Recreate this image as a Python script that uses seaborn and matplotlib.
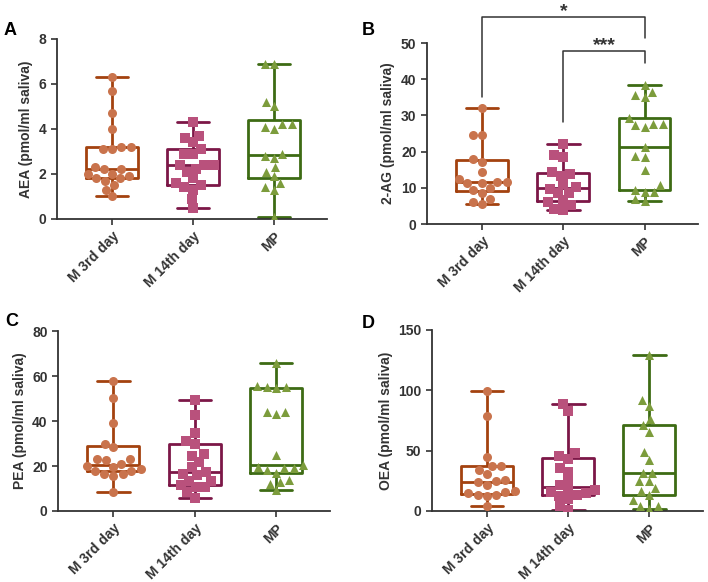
import numpy as np
import pandas as pd
import matplotlib
matplotlib.use("Agg")
import matplotlib.pyplot as plt
import matplotlib.cbook as cbook
import seaborn as sns

groups = ["M 3rd day", "M 14th day", "MP"]

# AEA (pmol/ml saliva)
aea_m3 = [6.3, 5.7, 4.7, 4.0, 3.2, 3.2, 3.1, 3.1, 2.3, 2.2, 2.2, 2.0, 2.0, 1.9, 1.8, 1.8, 1.7, 1.5, 1.3, 1.0]
aea_m14 = [4.3, 3.7, 3.6, 3.4, 3.1, 2.9, 2.9, 2.4, 2.4, 2.4, 2.2, 2.1, 1.8, 1.6, 1.5, 1.4, 1.3, 0.9, 0.5]
aea_mp = [6.9, 6.9, 5.2, 5.0, 4.2, 4.2, 4.1, 4.0, 2.9, 2.8, 2.7, 2.3, 2.1, 1.9, 1.6, 1.4, 1.3, 0.1]

# 2-AG (pmol/ml saliva)
ag_m3 = [32.2, 24.5, 24.5, 18.0, 17.2, 14.3, 12.5, 11.5, 11.5, 11.3, 11.3, 10.0, 9.5, 8.5, 7.0, 6.0, 5.5]
ag_m14 = [22.0, 19.0, 18.4, 14.3, 13.8, 13.4, 11.0, 10.2, 9.8, 8.7, 8.5, 6.6, 6.2, 5.3, 4.3, 4.0]
ag_mp = [38.5, 36.6, 35.7, 35.1, 29.2, 27.7, 27.7, 27.4, 26.9, 21.4, 18.8, 18.6, 14.9, 10.8, 9.4, 8.9, 8.9, 6.9, 6.4]

# PEA (pmol/ml saliva)
pea_m3 = [58.0, 50.3, 39.0, 30.0, 28.5, 23.0, 23.0, 22.5, 21.0, 20.0, 19.5, 18.5, 18.0, 18.0, 16.5, 16.5, 15.5, 8.5]
pea_m14 = [49.5, 42.5, 34.5, 31.0, 30.0, 25.5, 24.5, 22.0, 19.5, 17.5, 16.5, 16.0, 13.5, 13.5, 11.5, 10.5, 10.5, 8.5, 6.0]
pea_mp = [65.8, 55.5, 55.0, 55.0, 54.5, 44.2, 44.0, 43.0, 25.0, 20.5, 19.5, 19.3, 19.0, 18.2, 17.0, 13.6, 13.0, 12.2, 9.3]

# OEA (pmol/ml saliva)
oea_m3 = [99.5, 78.5, 45.0, 37.0, 37.0, 34.0, 30.5, 25.5, 24.5, 24.0, 21.5, 16.5, 16.0, 14.5, 13.5, 13.0, 12.5, 4.5]
oea_m14 = [89.0, 83.0, 48.0, 45.5, 43.0, 36.0, 32.5, 25.0, 21.5, 17.5, 17.5, 15.5, 14.5, 13.0, 12.5, 10.0, 4.5, 0.5]
oea_mp = [129.0, 92.0, 87.0, 76.0, 71.0, 65.5, 48.5, 42.5, 31.5, 31.5, 24.5, 24.5, 19.0, 16.5, 13.0, 9.0, 4.5, 4.0, 2.0]

line_colors = ["#A3420F", "#7C1747", "#3D6B14"]
point_colors = ["#C9734C", "#B9517C", "#7C9C3C"]
markers = ["o", "s", "^"]
dark = "#333333"

# quartiles the GraphPad way (n+1 method)
_orig_stats = cbook.boxplot_stats
def graphpad_stats(X, *args, **kwargs):
    stats = _orig_stats(X, *args, **kwargs)
    for st, x in zip(stats, X):
        st["q1"], st["med"], st["q3"] = np.percentile(x, [25, 50, 75], method="weibull")
    return stats
cbook.boxplot_stats = graphpad_stats

sns.set_style("ticks")
plt.rcParams["font.family"] = ["Liberation Sans", "DejaVu Sans"]
plt.rcParams["font.weight"] = "bold"


def panel(ax, values, ylabel, yticks):
    df = pd.DataFrame({"group": np.repeat(groups, [len(v) for v in values]),
                       "value": np.concatenate(values)})
    sns.boxplot(data=df, x="group", y="value", hue="group", order=groups, hue_order=groups,
                palette=line_colors, fill=False, whis=(0, 100), width=0.64, linewidth=2.0,
                capwidths=0.4, legend=False, ax=ax)
    for g, m, c in zip(groups, markers, point_colors):
        sns.swarmplot(data=df[df["group"] == g], x="group", y="value", order=groups,
                      color=c, marker=m, size=6.5, linewidth=0, zorder=3, ax=ax)
    sns.despine(ax=ax)
    ax.set_xlim(-0.68, 2.66)
    ax.set_ylim(yticks[0], yticks[-1])
    ax.set_yticks(yticks)
    ax.set_xticks([0, 1, 2])
    ax.set_xticklabels(groups, rotation=45, ha="right", rotation_mode="anchor")
    ax.set_xlabel("")
    ax.set_ylabel(ylabel, fontsize=10, fontweight="bold", color=dark)
    ax.tick_params(labelsize=10, width=1.2, length=4, color=dark, labelcolor=dark)
    for s in ["left", "bottom"]:
        ax.spines[s].set_color(dark)
        ax.spines[s].set_linewidth(1.3)
    return ax


fig = plt.figure(figsize=(7.08, 5.82), dpi=100)
axA = fig.add_axes([0.0805, 0.624, 0.382, 0.309])
axB = fig.add_axes([0.603, 0.615, 0.383, 0.311])
axC = fig.add_axes([0.082, 0.122, 0.384, 0.309])
axD = fig.add_axes([0.610, 0.122, 0.383, 0.311])

panel(axA, [aea_m3, aea_m14, aea_mp], "AEA (pmol/ml saliva)", [0, 2, 4, 6, 8])
panel(axB, [ag_m3, ag_m14, ag_mp], "2-AG (pmol/ml saliva)", [0, 10, 20, 30, 40, 50])
panel(axC, [pea_m3, pea_m14, pea_mp], "PEA (pmol/ml saliva)", [0, 20, 40, 60, 80])
panel(axD, [oea_m3, oea_m14, oea_mp], "OEA (pmol/ml saliva)", [0, 50, 100, 150])

# significance brackets on 2-AG
axB.plot([0, 0, 2, 2], [35, 57.3, 57.3, 51.5], color=dark, lw=1.1, clip_on=False)
axB.text(1, 57.5, "*", ha="center", va="baseline", fontsize=14, fontweight="bold", color=dark)
axB.plot([1, 1, 2, 2], [28.2, 47.8, 47.8, 44.5], color=dark, lw=1.1, clip_on=False)
axB.text(1.5, 48.0, "***", ha="center", va="baseline", fontsize=14, fontweight="bold", color=dark)

for letter, (x, y) in zip("ABCD", [(4, 22), (362, 22), (5, 313), (362, 315)]):
    fig.text(x / 708, 1 - y / 582, letter, ha="left", va="top", fontsize=13,
             fontweight="bold", color="black")

fig.savefig("out.png", dpi=100)
